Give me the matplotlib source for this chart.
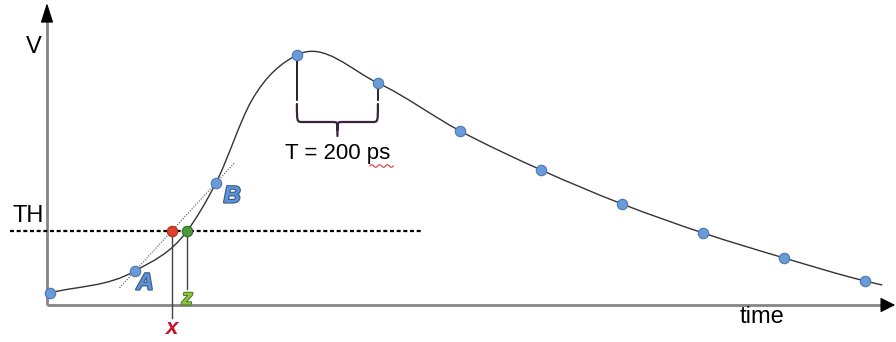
import numpy as np
import matplotlib.pyplot as plt
from matplotlib.path import Path
from matplotlib.patches import PathPatch
import matplotlib.patheffects as pe

plt.rcParams['font.family'] = ['Liberation Sans', 'DejaVu Sans']

# sampled points of the pulse (time in ps, voltage in arbitrary units)
sample_t = [7, 217, 417, 617, 817, 1020, 1220, 1420, 1620, 1820, 2020]
sample_v = [12, 34, 122, 250, 222, 174, 135, 101, 72, 47, 24]

# knots of the analog waveform trace
trace_t = [7, 217, 346, 417, 506, 617, 817, 1020, 1220, 1420, 1620, 1820, 2020, 2062]
trace_v = [12, 34, 74, 122, 205, 250, 222, 174, 135, 101, 72, 47, 24, 20]

threshold = 74
idx_a, idx_b = 1, 2          # samples A and B around the threshold
z_time = 346                 # true crossing of the waveform
period_ps = 200


def hermite_path(x, y):
    x = np.asarray(x, float)
    y = np.asarray(y, float)
    h = np.diff(x)
    d = np.diff(y) / h
    m = np.empty_like(y)
    m[0], m[-1] = d[0], d[-1]
    m[1:-1] = (d[:-1] * h[1:] + d[1:] * h[:-1]) / (h[:-1] + h[1:])
    verts = [(x[0], y[0])]
    codes = [Path.MOVETO]
    for i in range(len(h)):
        verts += [(x[i] + h[i] / 3, y[i] + m[i] * h[i] / 3),
                  (x[i + 1] - h[i] / 3, y[i + 1] - m[i + 1] * h[i] / 3),
                  (x[i + 1], y[i + 1])]
        codes += [Path.CURVE4] * 3
    return Path(verts, codes)


fig = plt.figure(figsize=(8.96, 3.42), dpi=100)
ax = fig.add_axes([0, 0, 1, 1])
ax.set_xlim(-116, 2096)
ax.set_ylim(-37, 305)
ax.axis('off')

# axes with arrow heads
axis_col = '#858585'
ax.plot([0, 0], [0, 290], color=axis_col, lw=2, solid_capstyle='butt', zorder=1)
ax.plot([0, 2070], [0, 0], color=axis_col, lw=2, solid_capstyle='butt', zorder=1)
ax.annotate('', xy=(0, 302), xytext=(0, 284),
            arrowprops=dict(arrowstyle='-|>,head_length=1.0,head_width=0.32',
                            color='black', lw=1, shrinkA=0, shrinkB=0,
                            mutation_scale=12))
ax.annotate('', xy=(2094, 0), xytext=(2064, 0),
            arrowprops=dict(arrowstyle='-|>,head_length=0.75,head_width=0.38',
                            color='black', lw=1, shrinkA=0, shrinkB=0,
                            mutation_scale=12))

ax.text(-33, 258, 'V', fontsize=17, ha='center', va='center')
ax.text(1765, -12, 'time', fontsize=17, ha='center', va='center')

# threshold
ax.plot([-91, 926], [threshold, threshold], color='black', lw=1.6,
        linestyle=(0, (1.8, 1.2)), zorder=2)
ax.text(-47, 89, 'TH', fontsize=17, ha='center', va='center')

# waveform
ax.add_patch(PathPatch(hermite_path(trace_t, trace_v), fill=False,
                       edgecolor='#333333', lw=1.0, zorder=3))

# straight line through A and B, crossing the threshold at x
ta, va = sample_t[idx_a], sample_v[idx_a]
tb, vb = sample_t[idx_b], sample_v[idx_b]
slope = (vb - va) / (tb - ta)
x_time = ta + (threshold - va) / slope
lt = np.array([ta - 38, tb + 45])
ax.plot(lt, va + slope * (lt - ta), color='#555555', lw=0.8,
        linestyle=(0, (1, 1.4)), zorder=3)

ax.plot([x_time, x_time], [threshold, -13], color='#444444', lw=1.0, zorder=3)
ax.plot([z_time, z_time], [threshold, 16], color='#444444', lw=1.0, zorder=3)

ax.plot(sample_t, sample_v, 'o', ms=7.5, mfc='#6b9bd6', mec='#4a78b5',
        mew=0.8, zorder=5)
ax.plot([x_time], [threshold], 'o', ms=7.5, mfc='#e0402a', mec='#a83020',
        mew=0.8, zorder=5)
ax.plot([z_time], [threshold], 'o', ms=7.5, mfc='#4c9a3c', mec='#2f6a26',
        mew=0.8, zorder=5)

blue_fx = [pe.Stroke(linewidth=1.6, foreground='#3a5a82'), pe.Normal()]
green_fx = [pe.Stroke(linewidth=1.4, foreground='#4d7424'), pe.Normal()]
ax.text(ta + 25, va - 12, 'A', fontsize=17, weight='bold', style='italic',
        color='#5e92d8', ha='center', va='center', path_effects=blue_fx)
ax.text(tb + 40, vb - 13, 'B', fontsize=17, weight='bold', style='italic',
        color='#5e92d8', ha='center', va='center', path_effects=blue_fx)
ax.text(z_time, 6, 'z', fontsize=16, weight='bold', style='italic',
        color='#8cc43e', ha='center', va='center', path_effects=green_fx)
ax.text(x_time, -24, 'x', fontsize=16, weight='bold', style='italic',
        color='#c8142e', ha='center', va='center')

# sampling period bracket between the peak sample and the next one
t0, t1 = sample_t[3], sample_t[4]
tm = (t0 + t1) / 2
ax.plot([t0, t0], [sample_v[3], 205], color='black', lw=1.2, zorder=4)
ax.plot([t1, t1], [sample_v[4], 205], color='black', lw=1.2, zorder=4)
r = 14
top, mid, tip = 201, 183, 169
brace = Path(
    [(t0, top), (t0, mid), (t0, mid), (t0 + r, mid),
     (tm - r, mid), (tm, mid), (tm, mid), (tm, mid - 8), (tm, tip),
     (tm, mid - 8), (tm, mid), (tm, mid), (tm + r, mid),
     (t1 - r, mid), (t1, mid), (t1, mid), (t1, top)],
    [Path.MOVETO, Path.CURVE4, Path.CURVE4, Path.CURVE4,
     Path.LINETO, Path.CURVE4, Path.CURVE4, Path.CURVE4, Path.LINETO,
     Path.MOVETO, Path.CURVE4, Path.CURVE4, Path.CURVE4,
     Path.LINETO, Path.CURVE4, Path.CURVE4, Path.CURVE4])
ax.add_patch(PathPatch(brace, fill=False, edgecolor='#3a2340', lw=1.6,
                       capstyle='round', zorder=4))
ax.text(tm, 151, 'T = %d ps' % period_ps, fontsize=16, ha='center',
        va='center')

# spell-check squiggle under "ps"
wt = np.linspace(tm + 80, tm + 138, 60)
ax.plot(wt, 139 + 1.3 * np.sin((wt - wt[0]) / 58 * 6 * np.pi), color='#e02020',
        lw=0.7, zorder=4)

fig.savefig('out.png', dpi=100)
